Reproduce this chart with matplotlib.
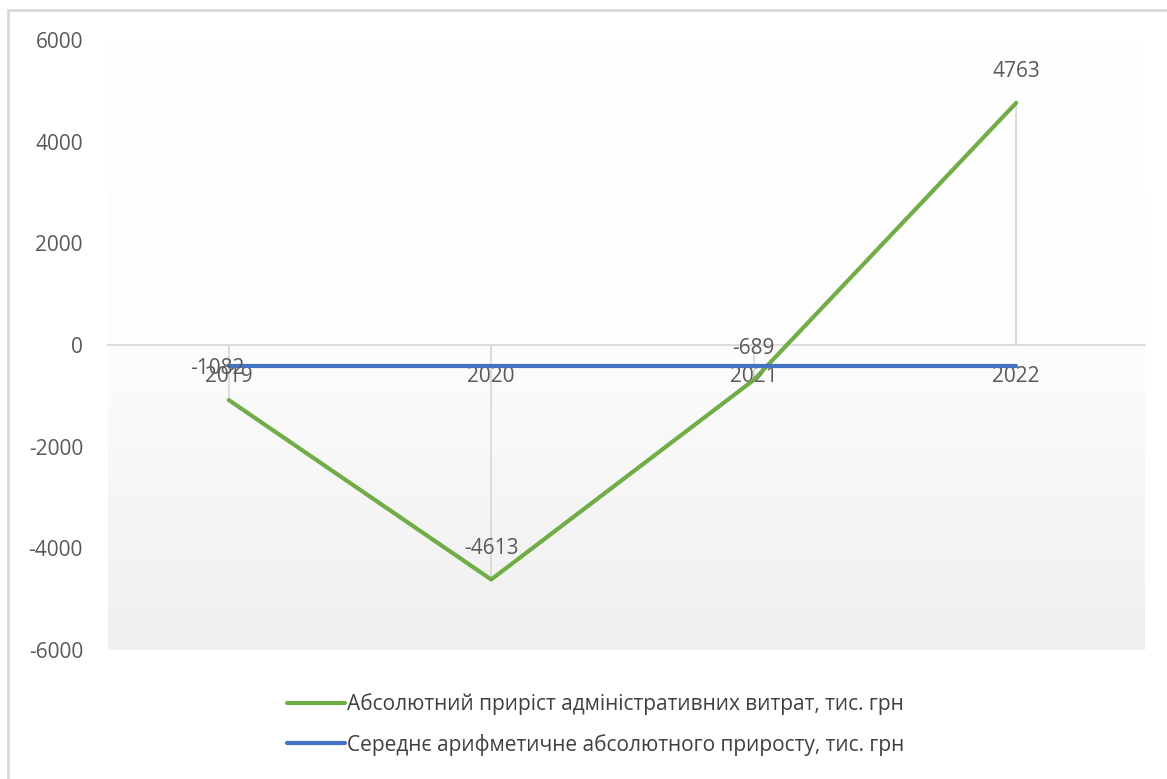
import matplotlib
matplotlib.use("Agg")
import matplotlib.pyplot as plt
import numpy as np
from matplotlib.patches import Rectangle
from matplotlib.colors import LinearSegmentedColormap

# дані
years = ['2019', '2020', '2021', '2022']
growth = [-1082, -4613, -689, 4763]
mean_growth = [-405.25, -405.25, -405.25, -405.25]
label_growth = 'Абсолютний приріст адміністративних витрат, тис. грн'
label_mean = 'Середнє арифметичне абсолютного приросту, тис. грн'

plt.rcParams['font.family'] = ['Open Sans', 'DejaVu Sans']
plt.rcParams['axes.unicode_minus'] = False
txt_col = '#595959'
grid_col = '#d9d9d9'

fig = plt.figure(figsize=(11.67, 7.79), dpi=100)
ax = fig.add_axes([0.0925, 0.1656, 0.8885, 0.7831])

x = np.arange(len(years))

# фон з градієнтом (зверху білий, знизу сірий)
grad = np.linspace(0, 1, 256).reshape(-1, 1)
cmap = LinearSegmentedColormap.from_list('bg', ['#ffffff', '#fdfdfd', '#efefef'])
ax.imshow(grad, aspect='auto', cmap=cmap, extent=[-0.46, 3.49, -6000, 6000],
          zorder=0, origin='upper')

# лінії падіння до осі
ax.vlines(x, 0, growth, color=grid_col, lw=1.3, zorder=1)

ax.plot(x, growth, color='#70AD47', lw=3, label=label_growth, zorder=3,
        solid_capstyle='round')
ax.plot(x, mean_growth, color='#4472C4', lw=3, label=label_mean, zorder=3,
        solid_capstyle='round')

for xi, v in zip(x, growth):
    ax.annotate(str(v), (xi, v), xytext=(-8 if xi == 0 else 0, 15),
                textcoords='offset points', ha='center', va='bottom',
                fontsize=15, color=txt_col, zorder=4)

ax.set_xlim(-0.46, 3.49)
ax.set_ylim(-6000, 6000)
ax.set_yticks(range(-6000, 6001, 2000))
ax.set_xticks(x)
ax.set_xticklabels(years)

for s in ['top', 'right', 'left']:
    ax.spines[s].set_visible(False)
ax.spines['bottom'].set_position(('data', 0))
ax.spines['bottom'].set_color(grid_col)
ax.spines['bottom'].set_linewidth(1.3)
ax.tick_params(axis='x', length=0, pad=15, labelsize=15, labelcolor=txt_col)
ax.tick_params(axis='y', length=0, pad=18, labelsize=15, labelcolor=txt_col)

fig.legend(loc='center left', bbox_to_anchor=(0.246, 0.07), frameon=False,
           fontsize=15, handlelength=2.8, handletextpad=0.1, labelspacing=0.9,
           borderpad=0, borderaxespad=0, labelcolor='#404040')

fig.patches.append(Rectangle((8 / 1167, -0.1), 1.2, 1.1 - 10 / 779,
                             transform=fig.transFigure, fill=False,
                             edgecolor=grid_col, lw=2))

fig.savefig('out.png', dpi=100)
